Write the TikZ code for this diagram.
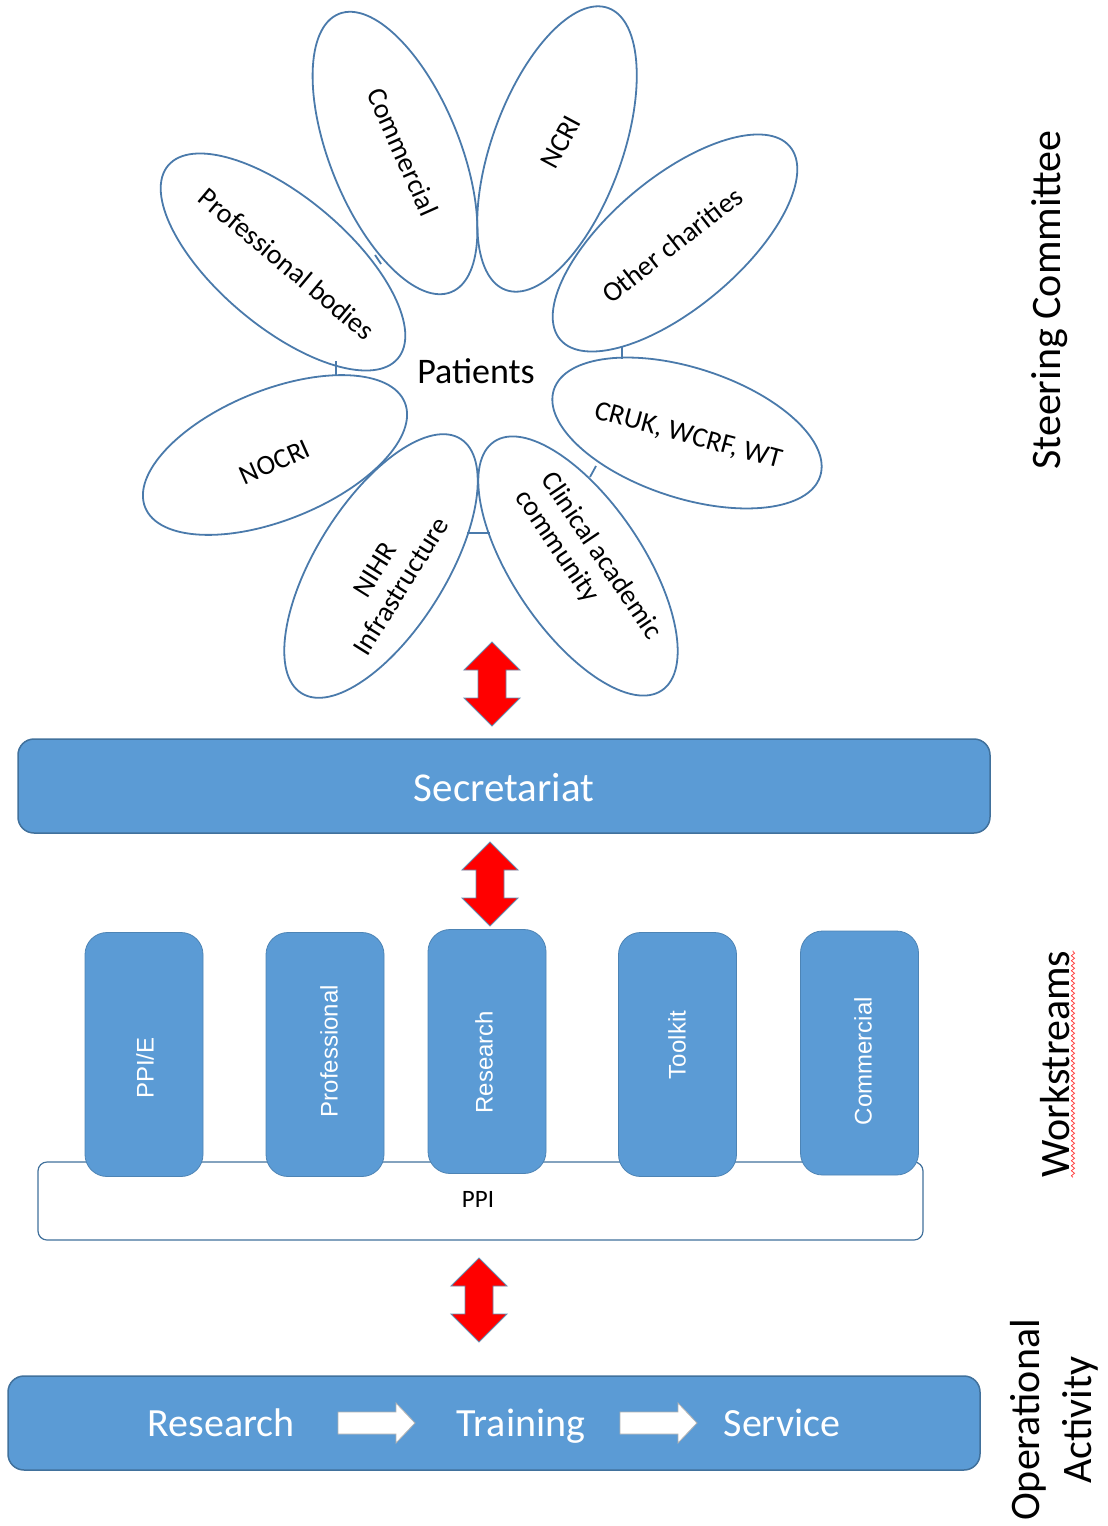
\documentclass[tikz,border=0pt]{standalone}
\usepackage{fontspec}
\setmainfont{Carlito}
\newfontfamily\arialf{Liberation Sans}
\usetikzlibrary{shapes.geometric,decorations.pathmorphing}
\definecolor{boxblue}{HTML}{5B9BD5}
\definecolor{boxedge}{HTML}{41719C}
\definecolor{petaledge}{HTML}{4A7AAB}
\begin{document}
\begin{tikzpicture}[x=1pt,y=-1pt,
  petal/.style={ellipse, draw=petaledge, line width=1.8pt, inner sep=0pt, outer sep=0pt,
    minimum width=300pt, minimum height=130pt},
  petaltext/.style={font=\fontsize{28}{31}\selectfont, inner sep=0pt},
  tick/.style={draw=petaledge, line width=1.8pt},
  bluebox/.style={draw=boxedge, line width=1.5pt, fill=boxblue, rounded corners=16pt,
    inner sep=0pt, text=white},
  wsbox/.style={draw=boxblue!85!black, line width=0.8pt, fill=boxblue, rounded corners=22pt,
    minimum width=118pt, minimum height=244pt, inner sep=0pt},
  wstext/.style={rotate=90, text=white, font=\arialf\fontsize{24}{28}\selectfont, inner sep=0pt},
  sidetext/.style={rotate=90, font=\fontsize{42}{52}\selectfont, inner sep=0pt},
  redarr/.pic={\draw[fill=red, draw=boxedge!80, line width=0.9pt]
     (0,-42) -- (28,-14) -- (14,-14) -- (14,14) -- (28,14) -- (0,42) -- (-28,14)
     -- (-14,14) -- (-14,-14) -- (-28,-14) -- cycle;},
  whitearr/.pic={\draw[fill=white, draw=gray!60, line width=0.8pt]
     (0,-11) -- (58,-11) -- (58,-20) -- (77,0) -- (58,20) -- (58,11) -- (0,11) -- cycle;}
]
\useasboundingbox (0,0) rectangle (1108,1526);

% ---------- Steering committee petals ----------
\node[petal, rotate=-68] (pcom) at (395,153) {};
\node[petal, rotate=70]  (pncri) at (557,149) {};
\node[petal, rotate=40]  (poth) at (675,243) {};
\node[petal, rotate=-40] (pprof) at (283,262) {};
\node[petal, rotate=-18, minimum width=280pt] (pcruk) at (687,433) {};
\node[petal, rotate=22, minimum width=280pt]  (pnocri) at (275,455) {};
\node[petal, rotate=58]  (pnihr) at (381,566) {};
\node[petal, rotate=-56] (pclin) at (578,566) {};

\node[petaltext, rotate=-66] (tcom) at (403,152) {Commercial};
\node[petaltext, rotate=62]  (tncri) at (561,142) {NCRI};
\node[petaltext, rotate=38]  (toth) at (672,245) {Other charities};
\node[petaltext, rotate=-40] (tprof) at (287,264) {Professional bodies};
\node[petaltext, rotate=-15] (tcruk) at (688,436) {CRUK, WCRF, WT};
\node[petaltext, rotate=24]  (tnocri) at (275,462) {NOCRI};
\node[petaltext, rotate=58, align=center] (tnihr) at (388,578) {NIHR\\Infrastructure};
\node[petaltext, rotate=-56, align=left] (tclin) at (588,565) {Clinical academic\\community};

\node[font=\fontsize{36}{40}\selectfont, anchor=base, inner sep=0pt] (patients) at (476,383) {Patients};

% small links between petals
\coordinate (k1a) at (375,255); \coordinate (k1b) at (381,264);
\coordinate (k2a) at (336,361); \coordinate (k2b) at (336,376);
\coordinate (k3a) at (622,347); \coordinate (k3b) at (622,359);
\coordinate (k4a) at (590,477); \coordinate (k4b) at (596,466);
\coordinate (k5a) at (467,533); \coordinate (k5b) at (490,533);
\draw[tick] (k1a) -- (k1b);
\draw[tick] (k2a) -- (k2b);
\draw[tick] (k3a) -- (k3b);
\draw[tick] (k4a) -- (k4b);
\draw[tick] (k5a) -- (k5b);

% ---------- Secretariat ----------
\node[bluebox, minimum width=972pt, minimum height=94pt] (sec) at (504,786) {};
\node[text=white, font=\fontsize{41}{45}\selectfont, anchor=base, inner sep=0pt] (sectext) at (504,801) {Secretariat};

\pic (a1) at (492,684) {redarr};
\pic (a2) at (490,884) {redarr};
\pic (a3) at (479,1300) {redarr};

% ---------- Workstreams ----------
\node[draw=boxedge, line width=1.2pt, fill=white, rounded corners=9pt,
  minimum width=885pt, minimum height=78pt, inner sep=0pt] (ppi) at (480.5,1201) {};
\node[font=\fontsize{25}{28}\selectfont, inner sep=0pt] (ppitext) at (478,1199) {PPI};

\node[wsbox] (w1) at (144,1054.5) {};
\node[wsbox] (w2) at (325,1054.5) {};
\node[wsbox] (w3) at (487,1051.5) {};
\node[wsbox] (w4) at (677.5,1054.5) {};
\node[wsbox] (w5) at (859.5,1053) {};
\node[wstext] (wt1) at (145,1068) {PPI/E};
\node[wstext] (wt2) at (329,1051) {Professional};
\node[wstext] (wt3) at (484,1062) {Research};
\node[wstext] (wt4) at (677,1045) {Toolkit};
\node[wstext] (wt5) at (863,1061) {Commercial};

% ---------- Operational activity ----------
\node[bluebox, minimum width=972pt, minimum height=94pt] (ops) at (494,1423) {};
\node[text=white, font=\fontsize{40}{44}\selectfont, anchor=base, inner sep=0pt] (r1) at (221,1436) {Research};
\node[text=white, font=\fontsize{40}{44}\selectfont, anchor=base, inner sep=0pt] (r2) at (521,1436) {Training};
\node[text=white, font=\fontsize{40}{44}\selectfont, anchor=base, inner sep=0pt] (r3) at (782,1436) {Service};
\pic (b1) at (338,1423) {whitearr};
\pic (b2) at (620,1423) {whitearr};

% ---------- side labels ----------
\node[sidetext] (lsc) at (1050,300) {Steering Committee};
\node[sidetext] (lws) at (1055,1064) {Workstreams};
\node[sidetext, align=center] (lop) at (1054,1420) {Operational\\Activity};
\draw[red!80, line width=0.7pt, decorate, decoration={snake, amplitude=1.6pt, segment length=5pt}]
  ([xshift=3pt]lws.south west) -- ([xshift=3pt]lws.south east);
\end{tikzpicture}
\end{document}
